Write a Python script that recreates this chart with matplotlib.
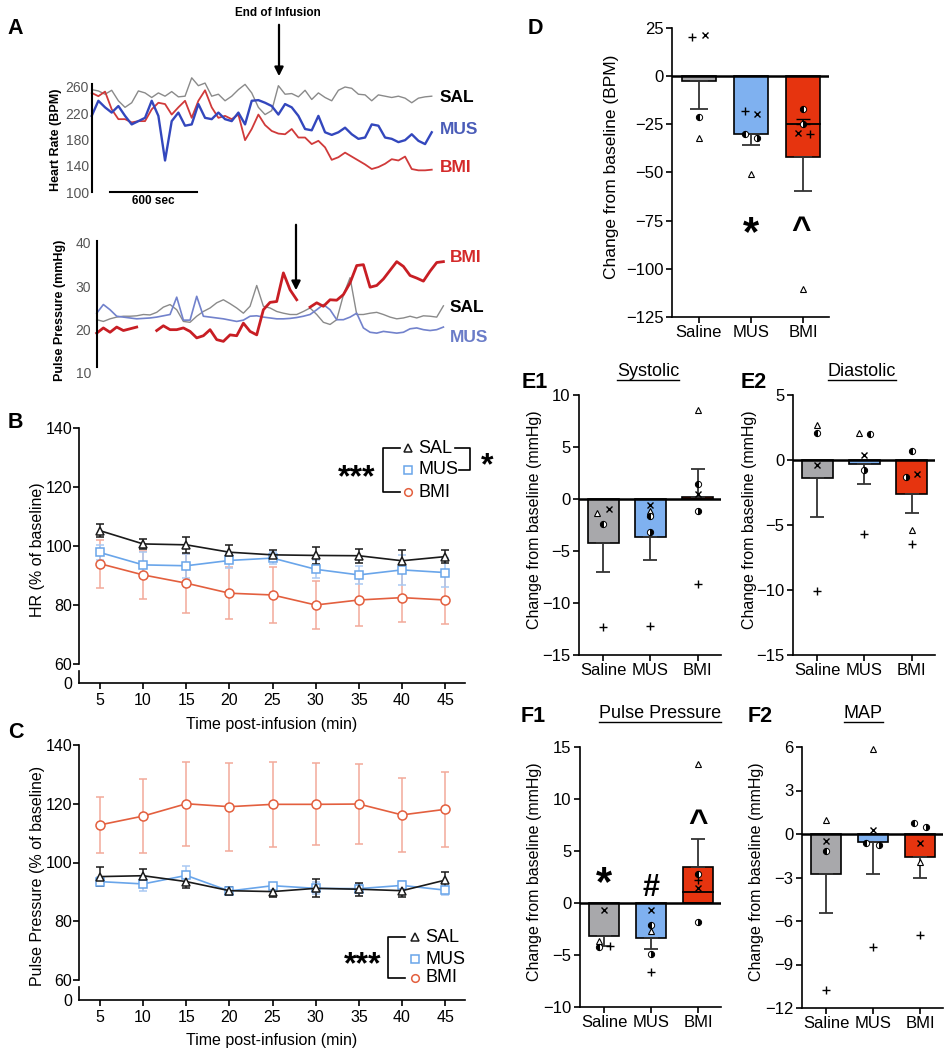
import numpy as np
import matplotlib
matplotlib.use('Agg')
import matplotlib.pyplot as plt
from matplotlib.lines import Line2D

plt.rcParams['font.family'] = ['Liberation Sans', 'DejaVu Sans']

W, H = 946, 1050

# ---------------- data ----------------
# A: example raw traces, one sample every 46 s
trace_step = 46
hr_sal = [256, 254, 249, 255, 239, 229, 236, 254, 251, 244, 251, 246, 253, 245, 246, 274, 262, 266,
          246, 249, 239, 246, 256, 264, 251, 229, 218, 224, 262, 249, 250, 245, 255, 241, 251, 244,
          239, 255, 260, 258, 249, 248, 239, 248, 246, 244, 246, 243, 236, 243, 245, 246]
hr_mus = [216, 239, 229, 221, 231, 216, 203, 208, 213, 239, 216, 148, 208, 221, 201, 203, 234, 213,
          211, 221, 211, 208, 221, 203, 239, 240, 236, 231, 218, 234, 229, 216, 196, 194, 216, 191,
          187, 191, 198, 188, 181, 183, 203, 201, 183, 181, 176, 179, 188, 178, 173, 191]
hr_bmi = [251, 246, 253, 226, 211, 211, 206, 208, 208, 226, 236, 234, 218, 229, 239, 213, 239, 255,
          229, 213, 216, 211, 218, 179, 196, 218, 202, 193, 189, 188, 196, 183, 183, 173, 178, 168,
          149, 153, 160, 154, 148, 142, 135, 138, 143, 150, 148, 154, 135, 133, 133, 134]
pp_sal = [22.3, 21.9, 22.5, 22.9, 23.1, 23.1, 23.2, 23.5, 23.4, 24.0, 25.2, 25.8, 24.6, 21.9, 21.7,
          23.1, 24.2, 25.0, 26.2, 26.9, 26.0, 25.0, 23.8, 25.4, 30.2, 25.4, 25.0, 24.2, 23.8, 23.5,
          23.5, 24.2, 25.0, 23.5, 21.7, 21.2, 22.3, 28.0, 32.0, 23.5, 23.5, 23.8, 24.0, 23.5, 22.9,
          22.5, 22.7, 23.1, 22.7, 23.2, 23.1, 22.9, 25.5]
pp_mus = [23.8, 25.8, 24.6, 23.1, 22.9, 22.7, 22.5, 22.6, 22.7, 22.9, 23.2, 23.5, 27.5, 22.2, 22.2,
          27.7, 23.1, 22.9, 22.7, 22.5, 22.2, 21.9, 22.2, 23.1, 23.2, 22.9, 22.7, 22.5, 22.5, 22.6,
          22.8, 23.1, 23.5, 24.6, 25.8, 24.6, 22.3, 22.3, 22.9, 23.8, 20.4, 19.4, 19.2, 19.6, 19.4,
          19.2, 19.4, 20.2, 20.4, 20.0, 19.8, 20.0, 20.6]
pp_bmi = [19.2, 20.4, 19.4, 20.6, 19.8, 20.2, 20.6, np.nan, np.nan, 19.8, 20.9, 20.0, 20.0, 20.4, 19.6,
          18.1, 18.6, 20.0, 17.7, 17.3, 18.8, 18.6, 21.5, 19.6, 18.8, 24.6, 26.3, 26.5, 33.1, 29.2,
          26.9, np.nan, 25.2, 26.2, 25.4, 26.9, 26.8, 28.1, 30.8, 34.8, 35.0, 29.8, 30.2, 31.7, 33.7,
          35.7, 34.6, 32.5, 31.9, 31.2, 33.5, 35.5, 35.7]

# B, C: time course (% of baseline), mean and SEM
minutes = [5, 10, 15, 20, 25, 30, 35, 40, 45]
hr_sal_pct = [105.2, 100.7, 100.4, 97.9, 97.0, 96.8, 96.7, 95.0, 96.4]
hr_sal_sem = [2.3, 1.6, 2.8, 2.5, 1.7, 3.0, 2.4, 3.5, 2.2]
hr_mus_pct = [97.8, 93.6, 93.3, 95.1, 95.9, 92.1, 90.2, 91.9, 91.0]
hr_mus_sem = [2.5, 4.5, 4.0, 2.5, 2.0, 3.0, 3.0, 5.0, 5.0]
hr_bmi_pct = [94.0, 90.2, 87.4, 84.0, 83.4, 80.0, 81.7, 82.5, 81.7]
hr_bmi_sem = [8.1, 8.1, 10.0, 8.8, 9.6, 8.2, 8.8, 8.3, 8.2]
pp_sal_pct = [95.2, 95.5, 93.5, 90.4, 90.1, 91.2, 90.9, 90.4, 94.0]
pp_sal_sem = [3.1, 2.3, 2.3, 1.4, 1.7, 3.1, 2.2, 2.2, 2.9]
pp_mus_pct = [93.5, 92.7, 95.6, 90.3, 92.1, 91.2, 91.1, 92.2, 90.6]
pp_mus_sem = [1.5, 2.3, 3.3, 1.0, 1.0, 2.0, 1.5, 1.5, 1.5]
pp_bmi_pct = [112.8, 115.8, 120.0, 119.0, 119.8, 119.8, 119.9, 116.2, 118.1]
pp_bmi_sem = [9.6, 12.5, 14.3, 15.0, 14.5, 14.0, 13.6, 12.7, 12.8]

# D-F: change from baseline, group mean, SEM and each animal
groups = ['Saline', 'MUS', 'BMI']
animals = ['tri', 'plus', 'cross', 'half_a', 'half_b']

d_mean = [-2.5, -29.9, -41.8]
d_sem = [14.4, 6.0, 17.8]
d_vals = [[-32.3, 20.4, 21.6, -21.4, None],
          [-50.6, -18.0, -19.5, -30.1, -32.0],
          [-110.5, -30.0, -29.7, -16.8, -24.9]]

e1_mean = [-4.2, -3.7, 0.2]
e1_sem = [2.8, 2.2, 2.7]
e1_vals = [[-1.3, -12.3, -1.0, -2.4, None],
           [-1.2, -12.2, -0.6, -1.6, -3.2],
           [8.6, -8.2, 0.5, 1.4, -1.2]]

e2_mean = [-1.36, -0.33, -2.64]
e2_sem = [3.0, 1.5, 1.4]
e2_vals = [[2.7, -10.05, -0.4, 2.05, None],
           [2.1, -5.7, 0.38, 2.0, -0.8],
           [-5.4, -6.45, -1.1, 0.7, -1.3]]

f1_mean = [-3.2, -3.4, 3.5]
f1_sem = [0.9, 1.0, 2.7]
f1_vals = [[-3.7, -4.1, -0.7, -4.25, None],
           [-2.7, -6.6, -0.7, -2.1, -4.9],
           [13.4, 2.2, 1.45, 2.8, -1.8]]

f2_mean = [-2.78, -0.57, -1.6]
f2_sem = [2.7, 2.2, 1.45]
f2_vals = [[1.0, -10.75, -0.46, -1.15, None],
           [5.84, -7.8, 0.28, -0.64, -0.76],
           [-1.9, -6.97, -0.64, 0.74, 0.5]]

# ---------------- styles ----------------
bar_colors = ['#a8a8ab', '#7fb1f0', '#e6340f']
c_sal, c_mus, c_bmi = '#1a1a1a', '#69a5ea', '#e35f3e'
c_mus_err, c_bmi_err = '#aac9f2', '#f2aa9a'

# jitter of the individual symbols (category units)
d_dx = [[0, -0.12, 0.12, 0, 0], [0, -0.12, 0.12, -0.12, 0.12], [0, 0.12, -0.1, 0, 0]]
e1_dx = [[-0.12, 0, 0.12, 0, 0], [0] * 5, [0] * 5]
e2_dx = [[0] * 5, [-0.12, 0, 0, 0.12, 0], [0, 0, 0.12, 0, -0.12]]
f1_dx = [[-0.1, 0.12, 0, -0.1, 0], [0] * 5, [0] * 5]
f2_dx = [[0] * 5, [0, 0, 0, -0.14, 0.13], [0, 0, 0, -0.12, 0.13]]

marker_style = {
    'tri': dict(marker='^', ms=4.5, mfc='white', mec='k', mew=0.8),
    'plus': dict(marker='+', ms=5.5, mec='k', mew=1.0),
    'cross': dict(marker='x', ms=4.5, mec='k', mew=1.0),
    'half_a': dict(marker='o', ms=4.5, mfc='k', mfcalt='white', fillstyle='left', mec='k', mew=0.7),
    'half_b': dict(marker='o', ms=4.5, mfc='k', mfcalt='white', fillstyle='right', mec='k', mew=0.7),
}

fig = plt.figure(figsize=(W / 100, H / 100), dpi=100)


def box(x0, y0, x1, y1):
    return fig.add_axes([x0 / W, 1 - y1 / H, (x1 - x0) / W, (y1 - y0) / H])


def ftext(x, y, s, **kw):
    return fig.text(x / W, 1 - y / H, s, **kw)


def fline(xs, ys, **kw):
    fig.add_artist(Line2D([x / W for x in xs], [1 - y / H for y in ys], **kw))


def farrow(x, y0, y1):
    fig.add_artist(matplotlib.patches.FancyArrowPatch(
        (x / W, 1 - y0 / H), (x / W, 1 - y1 / H), transform=fig.transFigure,
        arrowstyle='-|>', mutation_scale=13, lw=1.6, color='k'))


# ---------------- panel A ----------------
t = np.arange(len(hr_sal)) * trace_step
ax = box(91.7, 87, 440, 192)
ax.plot(t, hr_sal, color='#8a8a8a', lw=1.0, clip_on=False)
ax.plot(t, hr_bmi, color='#d03a3a', lw=1.3, clip_on=False)
ax.plot(t, hr_mus, color='#3347bd', lw=1.7, clip_on=False)
ax.set_xlim(0, 2403)
ax.set_ylim(100, 260)
ax.set_yticks([100, 140, 180, 220, 260])
ax.tick_params(axis='y', length=0, pad=2, labelsize=10, labelcolor='#555555')
ax.set_xticks([])
for s in ['top', 'right', 'bottom']:
    ax.spines[s].set_visible(False)
ax.spines['left'].set_linewidth(1.5)
ax.spines['left'].set_bounds(100, 264)
ax.set_facecolor('none')
ax.plot([126, 726], [100, 100], color='k', lw=1.5, clip_on=False)
ftext(153, 201, '600 sec', fontsize=8.5, fontweight='bold', ha='center', va='center')
ftext(56, 140, 'Heart Rate (BPM)', fontsize=9, fontweight='bold', rotation=90, ha='center', va='center')
ftext(278, 13, 'End of Infusion', fontsize=8.5, fontweight='bold', ha='center', va='center')
farrow(279, 22, 79)
ftext(440, 97, 'SAL', fontsize=12.5, fontweight='bold', color='k', va='center')
ftext(440, 130, 'MUS', fontsize=12.5, fontweight='bold', color='#4a5cb8', va='center')
ftext(440, 168, 'BMI', fontsize=12.5, fontweight='bold', color='#d42a2a', va='center')

t2 = np.arange(len(pp_sal)) * trace_step
ax = box(96.7, 243, 445, 373)
ax.plot(t2, pp_sal, color='#8a8a8a', lw=1.0, clip_on=False)
ax.plot(t2, pp_mus, color='#7282cc', lw=1.2, clip_on=False)
ax.plot(t2, pp_bmi, color='#c81e24', lw=2.0, clip_on=False)
ax.set_xlim(0, 2403)
ax.set_ylim(10, 40)
ax.set_yticks([10, 20, 30, 40])
ax.tick_params(axis='y', length=0, pad=4, labelsize=10, labelcolor='#555555')
ax.set_xticks([])
for s in ['top', 'right', 'bottom']:
    ax.spines[s].set_visible(False)
ax.spines['left'].set_linewidth(1.5)
ax.spines['left'].set_bounds(11.5, 40.5)
ax.set_facecolor('none')
ftext(60, 310, 'Pulse Pressure (mmHg)', fontsize=9, fontweight='bold', rotation=90, ha='center', va='center')
farrow(296, 222, 293)
ftext(450, 257, 'BMI', fontsize=12.5, fontweight='bold', color='#d42a2a', va='center')
ftext(450, 307, 'SAL', fontsize=12.5, fontweight='bold', color='k', va='center')
ftext(450, 338, 'MUS', fontsize=12.5, fontweight='bold', color='#6a7cc8', va='center')


# ---------------- panels B, C ----------------
def time_panel(y140, y60, y0, series):
    top = box(79, y140, 465, y60)
    bot = box(79, y60 + 7, 465, y0)
    for (mean, sem, col, ecol, mk, ms) in series:
        top.errorbar(minutes, mean, yerr=sem, color=col, ecolor=ecol, elinewidth=1.1, capsize=3,
                     capthick=1.1, marker=mk, ms=ms, mfc='white', mec=col, mew=1.1, lw=1.2,
                     clip_on=False)
    top.set_xlim(2.57, 47.3)
    top.set_ylim(60, 140)
    top.set_yticks([60, 80, 100, 120, 140])
    top.set_xticks([])
    for s in ['top', 'right', 'bottom']:
        top.spines[s].set_visible(False)
    top.spines['left'].set_linewidth(1.2)
    top.tick_params(axis='y', length=4, width=1.2, labelsize=11.5, pad=1)
    top.set_facecolor('none')
    bot.set_xlim(2.57, 47.3)
    bot.set_ylim(0, 1)
    bot.set_yticks([0])
    bot.set_xticks(minutes)
    for s in ['top', 'right']:
        bot.spines[s].set_visible(False)
    bot.spines['left'].set_linewidth(1.2)
    bot.spines['bottom'].set_linewidth(1.2)
    bot.tick_params(axis='y', length=0, labelsize=11.5, pad=5)
    bot.tick_params(axis='x', length=4, width=1.2, labelsize=11.5, pad=3)
    bot.set_facecolor('none')
    return top, bot


time_panel(428, 664, 683, [
    (hr_bmi_pct, hr_bmi_sem, c_bmi, c_bmi_err, 'o', 6.5),
    (hr_mus_pct, hr_mus_sem, c_mus, c_mus_err, 's', 6),
    (hr_sal_pct, hr_sal_sem, c_sal, c_sal, '^', 6),
])
ftext(38, 550, 'HR (% of baseline)', fontsize=11.5, rotation=90, ha='center', va='center')
ftext(272, 724, 'Time post-infusion (min)', fontsize=11.5, ha='center', va='center')

time_panel(745, 980, 1000, [
    (pp_bmi_pct, pp_bmi_sem, c_bmi, c_bmi_err, 'o', 6.5),
    (pp_mus_pct, pp_mus_sem, c_mus, c_mus_err, 's', 6),
    (pp_sal_pct, pp_sal_sem, c_sal, c_sal, '^', 6),
])
ftext(38, 876, 'Pulse Pressure (% of baseline)', fontsize=11.5, rotation=90, ha='center', va='center')
ftext(272, 1040, 'Time post-infusion (min)', fontsize=11.5, ha='center', va='center')


def legend_marks(xm, xt, ys):
    for y, lab, col, mk in zip(ys, ['SAL', 'MUS', 'BMI'], [c_sal, c_mus, c_bmi], ['^', 's', 'o']):
        fig.add_artist(Line2D([xm / W], [1 - y / H], marker=mk, ms=5.5, mfc='white', mec=col, mew=1.1))
        ftext(xt, y, lab, fontsize=13, va='center')


# B legend
legend_marks(408, 418, [448, 470, 492])
fline([400, 383, 383, 400], [448, 448, 492, 492], color='k', lw=1.2)
fline([455, 470, 470, 459], [448, 448, 470, 470], color='k', lw=1.2)
ftext(357, 478, '***', fontsize=23, fontweight='bold', ha='center', va='center')
ftext(487, 466, '*', fontsize=23, fontweight='bold', ha='center', va='center')
# C legend
legend_marks(415, 425, [937, 959, 978])
fline([405, 388, 388, 405], [937, 937, 978, 978], color='k', lw=1.2)
ftext(363, 965, '***', fontsize=23, fontweight='bold', ha='center', va='center')


# ---------------- bar panels D-F ----------------
def bar_panel(ax, mean, sem, vals, dx, ylim, yticks, capsize):
    x = np.arange(len(groups))
    ax.bar(x, mean, width=0.65, color=bar_colors, edgecolor='k', linewidth=1.2, zorder=2)
    lo = [s if m < 0 else 0 for m, s in zip(mean, sem)]
    hi = [s if m >= 0 else 0 for m, s in zip(mean, sem)]
    ax.errorbar(x, mean, yerr=[lo, hi], fmt='none', ecolor='#333333', elinewidth=1.3,
                capsize=capsize, capthick=1.3, zorder=3)
    ax.axhline(0, color='k', lw=1.8, zorder=4)
    for g in range(len(groups)):
        for a, name in enumerate(animals):
            v = vals[g][a]
            if v is None:
                continue
            ax.plot(g + dx[g][a], v, ls='none', zorder=5, clip_on=False, **marker_style[name])
    ax.set_xlim(-0.51, 2.49)
    ax.set_ylim(*ylim)
    ax.set_yticks(yticks)
    ax.set_xticks(x, groups)
    for s in ['top', 'right']:
        ax.spines[s].set_visible(False)
    ax.spines['left'].set_linewidth(1.2)
    ax.spines['bottom'].set_linewidth(1.2)
    ax.tick_params(axis='both', length=4, width=1.2, labelsize=12, pad=2)
    ax.set_facecolor('none')


# D
ax = box(672, 28, 829, 317)
bar_panel(ax, d_mean, d_sem, d_vals, d_dx, (-125, 25), [-125, -100, -75, -50, -25, 0, 25], 6.5)
ax.plot([1.68, 2.32], [-25, -25], color='k', lw=1.3, zorder=4)
ax.errorbar([2], [-25], yerr=[[0], [3]], fmt='none', ecolor='k', elinewidth=1.1, capsize=5, zorder=4)
ax.text(1, -82, '*', fontsize=30, fontweight='bold', ha='center', va='center')
ax.text(1.95, -80, '^', fontsize=24, fontweight='bold', ha='center', va='center')
ftext(611, 167, 'Change from baseline (BPM)', fontsize=12.5, rotation=90, ha='center', va='center')

# E1
ax = box(579, 395, 721, 655)
bar_panel(ax, e1_mean, e1_sem, e1_vals, e1_dx, (-15, 10), [-15, -10, -5, 0, 5, 10], 5)
ftext(535, 520, 'Change from baseline (mmHg)', fontsize=11.5, rotation=90, ha='center', va='center')
# E2
ax = box(793, 395, 935, 655)
bar_panel(ax, e2_mean, e2_sem, e2_vals, e2_dx, (-15, 5), [-15, -10, -5, 0, 5], 5)
ftext(749, 520, 'Change from baseline (mmHg)', fontsize=11.5, rotation=90, ha='center', va='center')
# F1
ax = box(580, 747, 721, 1007)
bar_panel(ax, f1_mean, f1_sem, f1_vals, f1_dx, (-10, 15), [-10, -5, 0, 5, 10, 15], 5)
ax.plot([1.68, 2.32], [1.1, 1.1], color='k', lw=1.3, zorder=4)
ax.text(0, 1.8, '*', fontsize=30, fontweight='bold', ha='center', va='center')
ax.text(1, 1.4, '#', fontsize=22, fontweight='bold', ha='center', va='center')
ax.text(2, 7.6, '^', fontsize=24, fontweight='bold', ha='center', va='center')
ftext(535, 872, 'Change from baseline (mmHg)', fontsize=11.5, rotation=90, ha='center', va='center')
# F2
ax = box(802, 747, 943, 1008)
bar_panel(ax, f2_mean, f2_sem, f2_vals, f2_dx, (-12, 6), [-12, -9, -6, -3, 0, 3, 6], 5)
ftext(757, 872, 'Change from baseline (mmHg)', fontsize=11.5, rotation=90, ha='center', va='center')

# titles and panel letters
titles = [ftext(648, 372, 'Systolic', fontsize=13, ha='center', va='center'),
          ftext(862, 372, 'Diastolic', fontsize=13, ha='center', va='center'),
          ftext(660, 714, 'Pulse Pressure', fontsize=13, ha='center', va='center'),
          ftext(863, 714, 'MAP', fontsize=13, ha='center', va='center')]
for lab, x, y in [('A', 15, 28), ('B', 15, 422), ('C', 16, 733), ('D', 535, 28),
                  ('E1', 535, 382), ('E2', 754, 382), ('F1', 533, 717), ('F2', 760, 717)]:
    ftext(x, y, lab, fontsize=15.5, fontweight='bold', ha='center', va='center')

fig.canvas.draw()
r = fig.canvas.get_renderer()
for tt in titles:
    bb = tt.get_window_extent(r)
    fig.add_artist(Line2D([bb.x0 / fig.bbox.width, bb.x1 / fig.bbox.width],
                          [(bb.y0 + 1) / fig.bbox.height] * 2, color='k', lw=1.0))

fig.savefig('out.png', dpi=100)
